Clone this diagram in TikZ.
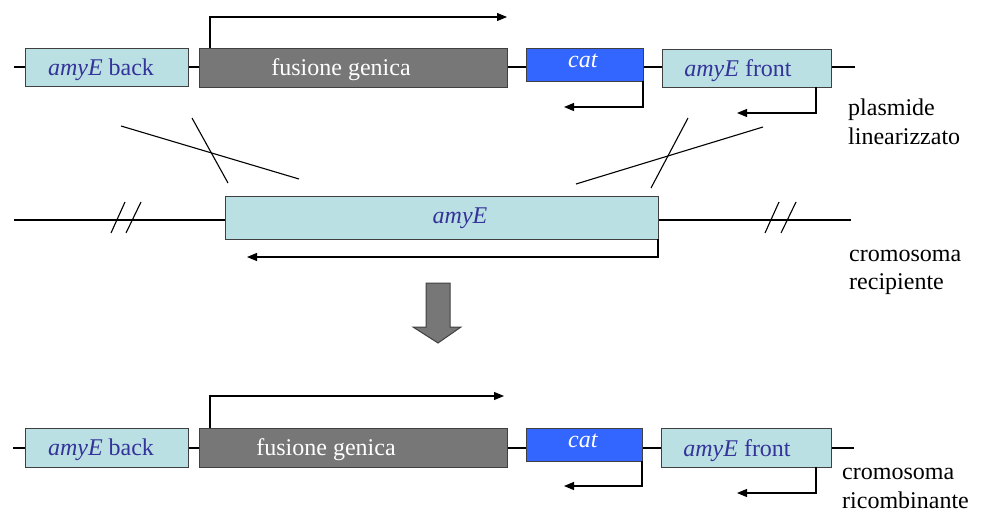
\documentclass[tikz,border=0pt]{standalone}
\usepackage{fontspec}
\setmainfont{Liberation Serif}[Ligatures=TeX]
\newfontfamily\tnr{Liberation Serif}
\usetikzlibrary{arrows.meta}
\definecolor{cyanbox}{HTML}{BBE0E3}
\definecolor{graybox}{HTML}{777777}
\definecolor{bluebox}{HTML}{3366FF}
\definecolor{gblue}{HTML}{333399}
\definecolor{edgegray}{HTML}{404040}
\tikzset{
  gene/.style={draw=edgegray, line width=1.1pt, inner sep=0pt, anchor=north west},
  cyanG/.style={gene, fill=cyanbox},
  grayG/.style={gene, fill=graybox},
  blueG/.style={gene, fill=bluebox},
  dna/.style={line width=1.1pt, draw=black},
  arr/.style={line width=1.1pt, -{Triangle[length=10pt,width=8pt]}},
  lbl/.style={inner sep=0pt, anchor=base, font=\tnr\fontsize{24}{28}\selectfont},
  side/.style={inner sep=0pt, anchor=base west, font=\tnr\fontsize{24}{28}\selectfont},
  cross/.style={line width=1.1pt},
}
\begin{document}
\begin{tikzpicture}[x=1pt,y=-1pt]
\useasboundingbox (0,0) rectangle (981,516);

% ---------- top: linearized plasmid ----------
\coordinate (tL) at (14,67);
\coordinate (tR) at (855,67);
\draw[dna] (tL) -- (tR);
\node[cyanG, minimum width=163pt, minimum height=38pt] (tback) at (25,48) {};
\node[grayG, minimum width=308pt, minimum height=39pt] (tfus) at (199,48) {};
\node[blueG, minimum width=117pt, minimum height=33pt] (tcat) at (526,48) {};
\node[cyanG, minimum width=169pt, minimum height=38pt] (tfront) at (662,49) {};
\node[lbl, text=gblue] (tbackt) at (101,76) {\textit{amyE} back};
\node[lbl, text=white] (tfust) at (341,76) {fusione genica};
\node[lbl, text=white] (tcatt) at (583,68) {\textit{cat}};
\node[lbl, text=gblue] (tfrontt) at (738,77) {\textit{amyE} front};
\coordinate (ta1s) at (210,48);
\coordinate (ta1e) at (507,17);
\draw[arr] (ta1s) |- (ta1e);
\coordinate (ta2s) at (643,81);
\coordinate (ta2e) at (564,107);
\draw[arr] (ta2s) |- (ta2e);
\coordinate (ta3s) at (816,87);
\coordinate (ta3e) at (737,113);
\draw[arr] (ta3s) |- (ta3e);
\node[side] (plas1) at (848,116) {plasmide};
\node[side] (plas2) at (848,144) {linearizzato};

% ---------- crossover lines ----------
\coordinate (c1a) at (121,126); \coordinate (c1b) at (299,179);
\coordinate (c2a) at (192,118); \coordinate (c2b) at (228,183);
\coordinate (c3a) at (763,127); \coordinate (c3b) at (576,184);
\coordinate (c4a) at (688,118); \coordinate (c4b) at (651,188);
\draw[cross] (c1a) -- (c1b);
\draw[cross] (c2a) -- (c2b);
\draw[cross] (c3a) -- (c3b);
\draw[cross] (c4a) -- (c4b);

% ---------- recipient chromosome ----------
\coordinate (mL) at (14,220);
\coordinate (mR) at (851,220);
\draw[dna] (mL) -- (mR);
\node[cyanG, minimum width=433pt, minimum height=43pt] (mamy) at (225,196) {};
\node[lbl, text=gblue] (mamyt) at (460,223) {\textit{amyE}};
\coordinate (ma1s) at (658,239);
\coordinate (ma1e) at (247,257);
\draw[arr] (ma1s) |- (ma1e);
\coordinate (s1a) at (111,233); \coordinate (s1b) at (125,202);
\coordinate (s2a) at (126,233); \coordinate (s2b) at (141,202);
\coordinate (s3a) at (765,233); \coordinate (s3b) at (779,202);
\coordinate (s4a) at (781,233); \coordinate (s4b) at (796,202);
\draw[cross] (s1a) -- (s1b);
\draw[cross] (s2a) -- (s2b);
\draw[cross] (s3a) -- (s3b);
\draw[cross] (s4a) -- (s4b);
\node[side] (rec1) at (849,261) {cromosoma};
\node[side] (rec2) at (849,289) {recipiente};

% ---------- big down arrow ----------
\draw[draw=edgegray, line width=1pt, fill=graybox, line join=miter]
  (426,283) -- (450,283) -- (450,327) -- (461,327) -- (438,343)
  -- (413,327) -- (426,327) -- cycle;

% ---------- bottom: recombinant chromosome ----------
\coordinate (bL) at (13,448);
\coordinate (bR) at (854,448);
\draw[dna] (bL) -- (bR);
\node[cyanG, minimum width=163pt, minimum height=39pt] (bback) at (25,428) {};
\node[grayG, minimum width=308pt, minimum height=39pt] (bfus) at (199,428) {};
\node[blueG, minimum width=116pt, minimum height=33pt] (bcat) at (526,428) {};
\node[cyanG, minimum width=170pt, minimum height=39pt] (bfront) at (661,428) {};
\node[lbl, text=gblue] (bbackt) at (101,455) {\textit{amyE} back};
\node[lbl, text=white] (bfust) at (326,455) {fusione genica};
\node[lbl, text=white] (bcatt) at (583,447) {\textit{cat}};
\node[lbl, text=gblue] (bfrontt) at (737,456) {\textit{amyE} front};
\coordinate (ba1s) at (210,428);
\coordinate (ba1e) at (504,396);
\draw[arr] (ba1s) |- (ba1e);
\coordinate (ba2s) at (642,461);
\coordinate (ba2e) at (564,486);
\draw[arr] (ba2s) |- (ba2e);
\coordinate (ba3s) at (816,467);
\coordinate (ba3e) at (737,493);
\draw[arr] (ba3s) |- (ba3e);
\node[side] (ric1) at (842,479) {cromosoma};
\node[side] (ric2) at (842,508) {ricombinante};
\end{tikzpicture}
\end{document}
